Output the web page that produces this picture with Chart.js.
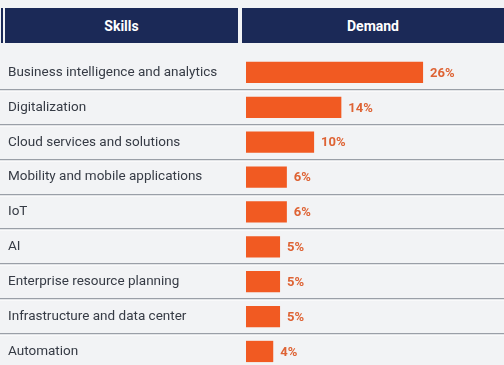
<!DOCTYPE html>
<html>
<head>
<meta charset="utf-8">
<script src="https://cdn.jsdelivr.net/npm/chart.js@4/dist/chart.umd.min.js"></script>
<style>
  html, body { margin: 0; padding: 0; background: #f2f3f5; overflow: hidden; }
  body { width: 504px; height: 365px; position: relative; font-family: Roboto, sans-serif; }
  .hdr { position: absolute; top: 8px; height: 35px; background: #1b2957; color: #fff;
         font: bold 14px Roboto, sans-serif; display: flex; align-items: center; justify-content: center; }
  /* taller than the page: the last row is cut by the bottom edge, as in the source */
  #wrap { position: absolute; left: 0; top: 0; width: 504px; height: 377px; }
  #wrap canvas { display: block; }
</style>
</head>
<body>
<div class="hdr" style="left:1px;width:2px;"></div>
<div class="hdr" style="left:5px;width:233px;">Skills</div>
<div class="hdr" style="left:242px;width:262px;">Demand</div>
<div id="wrap"><canvas id="chart"></canvas></div>

<script>
/* ── data ─────────────────────────────── */
const SKILLS = [
  'Business intelligence and analytics',
  'Digitalization',
  'Cloud services and solutions',
  'Mobility and mobile applications',
  'IoT',
  'AI',
  'Enterprise resource planning',
  'Infrastructure and data center',
  'Automation',
];
const DEMAND = [26, 14, 10, 6, 6, 5, 5, 5, 4];
const X_MAX = 37;

const BAR_COLOR   = '#f15a22';
const LABEL_COLOR = '#de6334';
const LINE_COLOR  = '#9a9fa7';

/* ── row separators across the full width ── */
const separators = {
  id: 'separators',
  beforeDatasetsDraw(chart) {
    const { ctx, scales: { y } } = chart;
    ctx.save();
    for (let i = 0; i < SKILLS.length - 1; i++) {
      const py = Math.round((y.getPixelForTick(i) + y.getPixelForTick(i + 1)) / 2);
      ctx.fillStyle = LINE_COLOR;
      ctx.fillRect(0, py - 1, chart.width, 1.5);
      ctx.fillStyle = '#ffffff';
      ctx.fillRect(0, py + 0.5, chart.width, 1);
    }
    ctx.restore();
  },
};

/* ── percentage labels after each bar ── */
const valueLabels = {
  id: 'valueLabels',
  afterDatasetsDraw(chart) {
    const { ctx } = chart;
    const meta = chart.getDatasetMeta(0);
    ctx.save();
    ctx.font = 'bold 13px Roboto, sans-serif';
    ctx.fillStyle = LABEL_COLOR;
    ctx.textAlign = 'left';
    ctx.textBaseline = 'middle';
    meta.data.forEach((bar, i) => {
      ctx.fillText(DEMAND[i] + '%', bar.x + 7, bar.y + 1);
    });
    ctx.restore();
  },
};

new Chart(document.getElementById('chart'), {
  type: 'bar',
  data: {
    labels: SKILLS,
    datasets: [{
      data: DEMAND,
      backgroundColor: BAR_COLOR,
      borderWidth: 0,
      categoryPercentage: 1,
      barPercentage: 0.61,
    }],
  },
  options: {
    indexAxis: 'y',
    responsive: true, maintainAspectRatio: false,
    animation: false,
    layout: { padding: { top: 55, left: 8, right: 6, bottom: 0 } },
    plugins: { legend: { display: false }, tooltip: { enabled: false } },
    scales: {
      x: { display: false, min: 0, max: X_MAX },
      y: {
        grid: { display: false, drawTicks: false },
        border: { display: false },
        ticks: {
          crossAlign: 'far',
          padding: 0,
          color: '#363b45',
          font: { family: 'Roboto, sans-serif', size: 13.5 },
        },
        afterFit(scale) { scale.width = 238; },
      },
    },
  },
  plugins: [separators, valueLabels],
});
</script>
</body>
</html>
